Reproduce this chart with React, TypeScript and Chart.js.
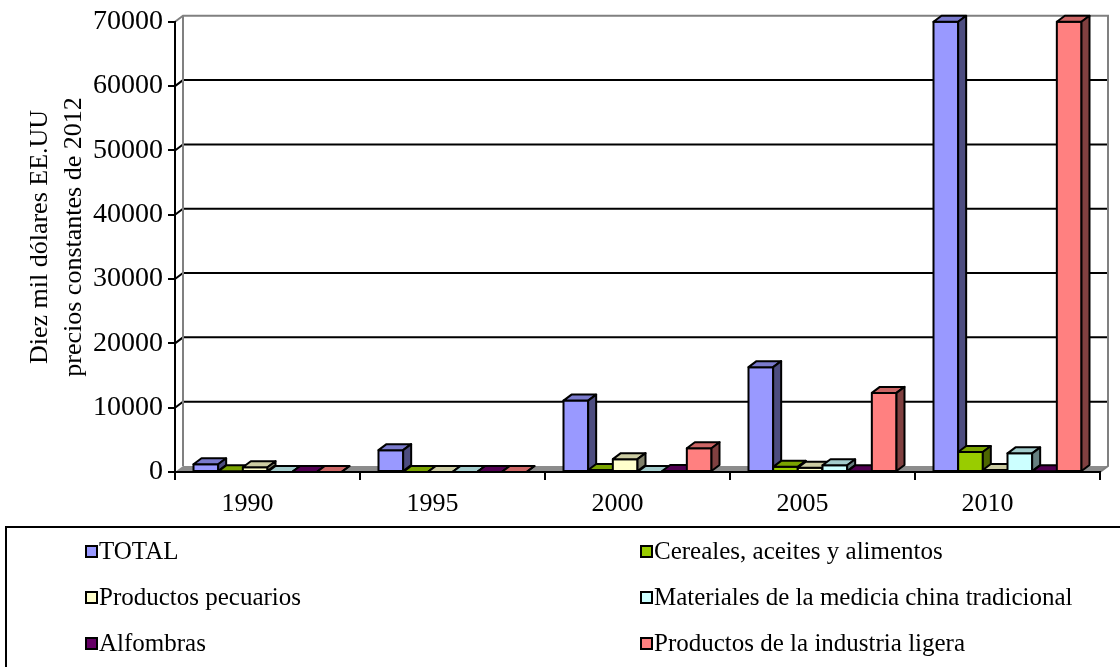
import React, { useEffect, useRef } from "react";
import { Chart, registerables } from "chart.js";

Chart.register(...registerables);

const years = ["1990", "1995", "2000", "2005", "2010"];
const seriesNames = [
  "TOTAL",
  "Cereales, aceites y alimentos",
  "Productos pecuarios",
  "Materiales de la medicia china tradicional",
  "Alfombras",
  "Productos de la industria ligera",
];
const total = [1200, 3400, 11100, 16300, 70000];
const cereales = [100, 0, 300, 800, 3100];
const pecuarios = [750, 0, 2000, 650, 300];
const materiales = [0, 0, 0, 1050, 2900];
const alfombras = [0, 0, 150, 100, 100];
const ligera = [0, 0, 3700, 12300, 70000];
const yTicks = [0, 10000, 20000, 30000, 40000, 50000, 60000, 70000];
const yTitle = ["Diez mil dólares EE.UU", "precios constantes de 2012"];

const frontColors = ["#9999FF", "#99CC00", "#FFFFCC", "#CCFFFF", "#660066", "#FF8080"];
const topColors = ["#7A7ACC", "#7AA300", "#CCCCA3", "#A3CCCC", "#520052", "#CC6666"];
const sideColors = ["#4D4D80", "#4D6600", "#80806A", "#668080", "#330033", "#804040"];

const FONT = "'Liberation Serif', 'Times New Roman', serif";
const DX = 8;
const DY = 6;

const bar3d = {
  id: "bar3d",
  beforeDraw(chart: any) {
    const { ctx, chartArea } = chart;
    const { left, right, top, bottom } = chartArea;
    const ys = chart.scales.y;
    ctx.save();
    // floor
    ctx.fillStyle = "#8c8c8c";
    ctx.beginPath();
    ctx.moveTo(left, bottom);
    ctx.lineTo(right, bottom);
    ctx.lineTo(right + DX, bottom - DY);
    ctx.lineTo(left + DX, bottom - DY);
    ctx.closePath();
    ctx.fill();
    // gridlines
    ctx.strokeStyle = "#000";
    ctx.lineWidth = 2;
    yTicks.forEach((v) => {
      if (v === 0 || v === yTicks[yTicks.length - 1]) return;
      const py = ys.getPixelForValue(v);
      ctx.beginPath();
      ctx.moveTo(left, py);
      ctx.lineTo(left + DX, py - DY);
      ctx.lineTo(right + DX, py - DY);
      ctx.stroke();
    });
    // walls outline
    ctx.strokeStyle = "#808080";
    ctx.lineWidth = 2;
    ctx.beginPath();
    ctx.moveTo(left, top);
    ctx.lineTo(left + DX, top - DY);
    ctx.lineTo(right + DX, top - DY);
    ctx.lineTo(right + DX, bottom - DY);
    ctx.lineTo(right, bottom);
    ctx.moveTo(left + DX, top - DY);
    ctx.lineTo(left + DX, bottom - DY);
    ctx.stroke();
    ctx.restore();
  },
  beforeDatasetsDraw(chart: any) {
    const { ctx } = chart;
    ctx.save();
    ctx.lineWidth = 2;
    ctx.lineJoin = "round";
    ctx.strokeStyle = "#000";
    const n = chart.data.labels.length;
    for (let j = 0; j < n; j++) {
      chart.data.datasets.forEach((ds: any, i: number) => {
        const el = chart.getDatasetMeta(i).data[j];
        const { x, y, base, width } = el.getProps(["x", "y", "base", "width"], true);
        const l = x - width / 2;
        const r = x + width / 2;
        // front
        ctx.fillStyle = frontColors[i];
        ctx.beginPath();
        ctx.rect(l, y, r - l, base - y);
        ctx.fill();
        ctx.stroke();
        // top
        ctx.fillStyle = topColors[i];
        ctx.beginPath();
        ctx.moveTo(l, y);
        ctx.lineTo(r, y);
        ctx.lineTo(r + DX, y - DY);
        ctx.lineTo(l + DX, y - DY);
        ctx.closePath();
        ctx.fill();
        ctx.stroke();
        // side
        ctx.fillStyle = sideColors[i];
        ctx.beginPath();
        ctx.moveTo(r, y);
        ctx.lineTo(r + DX, y - DY);
        ctx.lineTo(r + DX, base - DY);
        ctx.lineTo(r, base);
        ctx.closePath();
        ctx.fill();
        ctx.stroke();
      });
    }
    ctx.restore();
    return false;
  },
  afterDraw(chart: any) {
    const { ctx } = chart;
    ctx.save();
    ctx.fillStyle = "#000";
    ctx.font = `26px ${FONT}`;
    ctx.textAlign = "center";
    ctx.textBaseline = "middle";
    ctx.translate(40, 237);
    ctx.rotate(-Math.PI / 2);
    yTitle.forEach((t, k) => ctx.fillText(t, 0, k * 34));
    ctx.restore();
  },
};

export default function App() {
  const ref = useRef<HTMLCanvasElement>(null);
  useEffect(() => {
    const series = [total, cereales, pecuarios, materiales, alfombras, ligera];
    const chart = new Chart(ref.current!, {
      type: "bar",
      data: {
        labels: years,
        datasets: series.map((d, i) => ({
          label: seriesNames[i],
          data: d,
          backgroundColor: frontColors[i],
          borderColor: "#000",
          borderWidth: 2,
          categoryPercentage: 0.8,
          barPercentage: 1.0,
        })),
      },
      options: {
        responsive: false,
        animation: false,
        events: [],
        layout: { padding: { top: 20, right: 20, left: 0, bottom: 0 } },
        plugins: { legend: { display: false }, tooltip: { enabled: false }, title: { display: false } },
        scales: {
          x: {
            afterFit: (s: any) => { s.height = 55; },
            grid: { display: true, drawOnChartArea: false, drawTicks: true, tickLength: 8, color: "#000", lineWidth: 2 },
            border: { display: true, color: "#000", width: 2 },
            ticks: { color: "#000", font: { family: FONT, size: 26 }, padding: 9, labelOffset: -20 },
          },
          y: {
            min: 0,
            max: 70000,
            afterFit: (s: any) => { s.width = 175; },
            afterBuildTicks: (s: any) => { s.ticks = yTicks.map((v) => ({ value: v })); },
            grid: { display: true, drawOnChartArea: false, drawTicks: true, tickLength: 7, color: "#000", lineWidth: 2 },
            border: { display: true, color: "#000", width: 2 },
            ticks: { color: "#000", font: { family: FONT, size: 28 }, padding: 5, callback: (v: any) => String(v) },
          },
        },
      },
      plugins: [bar3d],
    });
    return () => chart.destroy();
  }, []);

  const rowsY = [551, 597, 643];
  const colX = [85, 640];
  return (
    <div style={{ position: "fixed", left: 0, top: 0, width: 1120, height: 667, overflow: "hidden", background: "#fff" }}>
      <canvas ref={ref} width={1120} height={527} style={{ position: "absolute", left: 0, top: 0, width: 1120, height: 527 }} />
      <div style={{ position: "absolute", left: 5, top: 526, width: 1200, height: 200, border: "2px solid #000", boxSizing: "border-box" }} />
      {seriesNames.map((name, i) => {
        const cx = colX[i % 2];
        const cy = rowsY[Math.floor(i / 2)];
        return (
          <div key={name} style={{ position: "absolute", left: cx, top: cy - 15, height: 30, display: "flex", alignItems: "center", whiteSpace: "nowrap", fontFamily: FONT, fontSize: 25, color: "#000" }}>
            <span style={{ display: "inline-block", width: 9, height: 9, border: "2px solid #000", background: frontColors[i], marginRight: 1 }} />
            <span>{name}</span>
          </div>
        );
      })}
    </div>
  );
}
